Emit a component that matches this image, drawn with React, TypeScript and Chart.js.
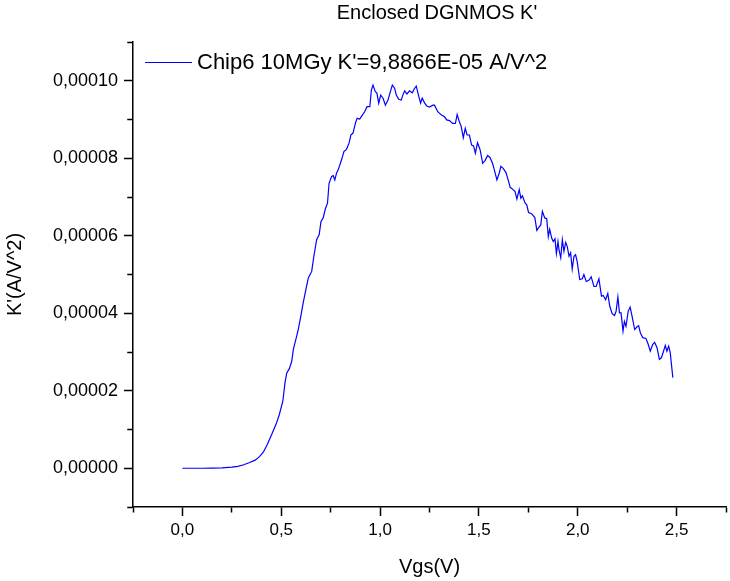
import { useEffect, useRef } from 'react';
import { Chart, registerables } from 'chart.js';

Chart.register(...registerables);

const FONT = "'Liberation Sans', Arial, sans-serif";

const chartTitle = "Enclosed DGNMOS K'";
const seriesLabel = "Chip6 10MGy K'=9,8866E-05 A/V^2";
const xAxisTitle = 'Vgs(V)';
const yAxisTitle = "K'(A/V^2)";

// Vgs values (V)
const vgs = [
  0.0, 0.05, 0.1, 0.15, 0.2, 0.25, 0.28, 0.31, 0.34, 0.368, 0.39, 0.41, 0.43, 0.452, 0.477, 0.49,
  0.508, 0.519, 0.528, 0.541, 0.553, 0.561, 0.57, 0.578, 0.586, 0.6, 0.611, 0.625, 0.637, 0.654,
  0.665, 0.679, 0.692, 0.701, 0.712, 0.724, 0.734, 0.742, 0.755, 0.763, 0.771, 0.78, 0.788, 0.805,
  0.817, 0.83, 0.843, 0.852, 0.863, 0.876, 0.884, 0.897, 0.911, 0.922, 0.934, 0.948, 0.956, 0.964,
  0.976, 0.984, 0.993, 1.003, 1.015, 1.027, 1.04, 1.052, 1.062, 1.074, 1.082, 1.094, 1.107, 1.115,
  1.124, 1.136, 1.149, 1.163, 1.174, 1.183, 1.195, 1.205, 1.213, 1.225, 1.236, 1.25, 1.267, 1.275,
  1.292, 1.309, 1.326, 1.337, 1.351, 1.367, 1.381, 1.39, 1.401, 1.41, 1.421, 1.431, 1.44, 1.452,
  1.463, 1.473, 1.482, 1.493, 1.506, 1.519, 1.531, 1.544, 1.556, 1.569, 1.578, 1.591, 1.603, 1.611,
  1.623, 1.637, 1.648, 1.658, 1.673, 1.683, 1.692, 1.704, 1.712, 1.72, 1.734, 1.742, 1.751, 1.766,
  1.783, 1.793, 1.804, 1.813, 1.821, 1.833, 1.843, 1.851, 1.858, 1.868, 1.876, 1.885, 1.892, 1.9,
  1.905, 1.914, 1.922, 1.93, 1.939, 1.947, 1.956, 1.964, 1.972, 1.981, 1.989, 1.997, 2.01, 2.023,
  2.031, 2.043, 2.056, 2.068, 2.082, 2.093, 2.107, 2.12, 2.129, 2.141, 2.152, 2.162, 2.174, 2.186,
  2.194, 2.203, 2.211, 2.219, 2.229, 2.236, 2.244, 2.255, 2.265, 2.275, 2.288, 2.3, 2.308, 2.317,
  2.329, 2.345, 2.355, 2.367, 2.379, 2.389, 2.401, 2.413, 2.423, 2.434, 2.443, 2.451, 2.46, 2.468,
  2.481,
];

// K' values in units of 1E-05 A/V^2
const kPrimeE5 = [
  0.0, 0.0, 0.0, 0.005, 0.01, 0.03, 0.05, 0.09, 0.15, 0.21, 0.3, 0.42, 0.62, 0.88, 1.18, 1.38,
  1.73, 2.21, 2.46, 2.57, 2.76, 3.06, 3.25, 3.41, 3.58, 3.95, 4.27, 4.62, 4.91, 5.08,
  5.47, 5.9, 6.03, 6.37, 6.46, 6.71, 6.84, 7.36, 7.53, 7.55, 7.44, 7.62, 7.7, 7.96,
  8.17, 8.23, 8.39, 8.6, 8.65, 8.92, 9.03, 9.01, 9.12, 9.2, 9.33, 9.33, 9.76, 9.89,
  9.72, 9.68, 9.42, 9.63, 9.55, 9.37, 9.5, 9.72, 9.89, 9.8, 9.63, 9.52, 9.5, 9.63,
  9.74, 9.66, 9.74, 9.69, 9.8, 9.86, 9.61, 9.42, 9.55, 9.43, 9.35, 9.32, 9.37, 9.37,
  9.2, 9.12, 9.07, 8.99, 8.97, 8.9, 8.9, 9.13, 8.94, 8.83, 8.53, 8.77, 8.6, 8.6,
  8.34, 8.32, 8.13, 8.4, 8.22, 7.87, 7.94, 8.07, 8.02, 7.87, 7.7, 7.44, 7.62, 7.79,
  7.74, 7.63, 7.44, 7.25, 7.19, 7.14, 6.95, 7.19, 6.97, 7.03, 6.84, 6.8, 6.6, 6.57,
  6.47, 6.14, 6.22, 6.28, 6.63, 6.46, 6.44, 5.98, 6.17, 5.94, 5.85, 5.92, 5.54, 5.85,
  5.64, 5.43, 5.9, 5.6, 5.83, 5.72, 5.47, 5.56, 5.14, 5.47, 5.51, 5.34, 4.87, 4.89,
  5.0, 4.82, 4.85, 4.94, 4.69, 4.69, 4.89, 4.44, 4.46, 4.35, 4.51, 4.18, 3.99, 3.94,
  4.05, 4.42, 4.01, 4.01, 3.54, 3.79, 3.66, 4.05, 4.16, 3.92, 3.58, 3.65, 3.68, 3.49,
  3.37, 3.35, 3.22, 3.02, 3.19, 3.25, 3.11, 2.81, 2.85, 3.02, 3.17, 3.02, 3.15, 2.98,
  2.34,
];

// Axis ranges and tick steps
const xMin = -0.25;
const xMax = 2.75;
const xMinorStep = 0.25;
const xMajorStep = 0.5;
const yMin = -0.00001;
const yMax = 0.00011;
const yMinorStep = 0.00001;
const yMajorStep = 0.00002;

const isMajor = (v: number, step: number) => Math.abs(v / step - Math.round(v / step)) < 1e-6;

const textPlugin = {
  id: 'titleAndLegend',
  afterDraw(chart: any) {
    const { ctx, chartArea } = chart;
    ctx.save();
    // title
    ctx.fillStyle = '#000';
    ctx.font = `20px ${FONT}`;
    ctx.textBaseline = 'middle';
    ctx.textAlign = 'center';
    ctx.fillText(chartTitle, 437, 13);
    // legend inside plot area
    const y = chartArea.top + 20;
    const x0 = chartArea.left + 12;
    ctx.strokeStyle = '#0000ff';
    ctx.lineWidth = 1.2;
    ctx.beginPath();
    ctx.moveTo(x0, y + 0.5);
    ctx.lineTo(x0 + 47, y + 0.5);
    ctx.stroke();
    ctx.font = `22px ${FONT}`;
    ctx.textAlign = 'left';
    ctx.fillText(seriesLabel, x0 + 52, y + 1);
    ctx.restore();
  },
};

export default function App() {
  const canvasRef = useRef<HTMLCanvasElement | null>(null);

  useEffect(() => {
    const canvas = canvasRef.current;
    if (!canvas) return;
    const points = vgs.map((x, i) => ({ x, y: kPrimeE5[i] * 1e-5 }));

    const chart = new Chart(canvas, {
      type: 'line',
      data: {
        datasets: [
          {
            label: seriesLabel,
            data: points,
            borderColor: '#0000ff',
            borderWidth: 1.2,
            pointRadius: 0,
            tension: 0,
            fill: false,
          },
        ],
      },
      options: {
        animation: false,
        responsive: false,
        maintainAspectRatio: false,
        devicePixelRatio: 1,
        layout: { padding: { top: 42, left: 0, right: 2, bottom: 0 } },
        plugins: {
          legend: { display: false },
          tooltip: { enabled: false },
          title: { display: false },
        },
        scales: {
          x: {
            type: 'linear',
            min: xMin,
            max: xMax,
            afterFit: (s: any) => {
              s.height = 74;
            },
            ticks: {
              stepSize: xMinorStep,
              autoSkip: false,
              maxRotation: 0,
              color: '#000',
              padding: 4,
              font: { family: FONT, size: 17 },
              callback: (v: any) => {
                const n = Number(v);
                return isMajor(n, xMajorStep) ? n.toFixed(1).replace('.', ',') : '';
              },
            },
            grid: {
              drawOnChartArea: false,
              drawTicks: true,
              tickLength: 9,
              tickColor: '#000',
              tickWidth: 1.5,
              tickBorderDash: (ctx: any) =>
                ctx.tick && !isMajor(ctx.tick.value, xMajorStep) ? [5, 100] : [],
            },
            border: { display: true, color: '#000', width: 1.5 },
            title: {
              display: true,
              text: xAxisTitle,
              color: '#000',
              font: { family: FONT, size: 20 },
              padding: { top: 0, bottom: 2 },
            },
          },
          y: {
            type: 'linear',
            min: yMin,
            max: yMax,
            afterFit: (s: any) => {
              s.width = 133;
            },
            ticks: {
              stepSize: yMinorStep,
              autoSkip: false,
              color: '#000',
              padding: 6,
              font: { family: FONT, size: 18 },
              callback: (v: any) => {
                const n = Number(v);
                return isMajor(n, yMajorStep) ? n.toFixed(5).replace('.', ',') : '';
              },
            },
            grid: {
              drawOnChartArea: false,
              drawTicks: true,
              tickLength: 9,
              tickColor: '#000',
              tickWidth: 1.5,
              tickBorderDash: (ctx: any) =>
                ctx.tick && !isMajor(ctx.tick.value, yMajorStep) ? [0, 3.25, 5, 100] : [],
            },
            border: { display: true, color: '#000', width: 1.5 },
            title: {
              display: true,
              text: yAxisTitle,
              color: '#000',
              font: { family: FONT, size: 20 },
              padding: { top: 3, bottom: 0 },
            },
          },
        },
      },
      plugins: [textPlugin],
    });

    return () => chart.destroy();
  }, []);

  return (
    <div style={{ position: 'absolute', left: 0, top: 0, width: 730, height: 581, background: '#fff' }}>
      <canvas ref={canvasRef} width={730} height={581} style={{ width: 730, height: 581 }} />
    </div>
  );
}
